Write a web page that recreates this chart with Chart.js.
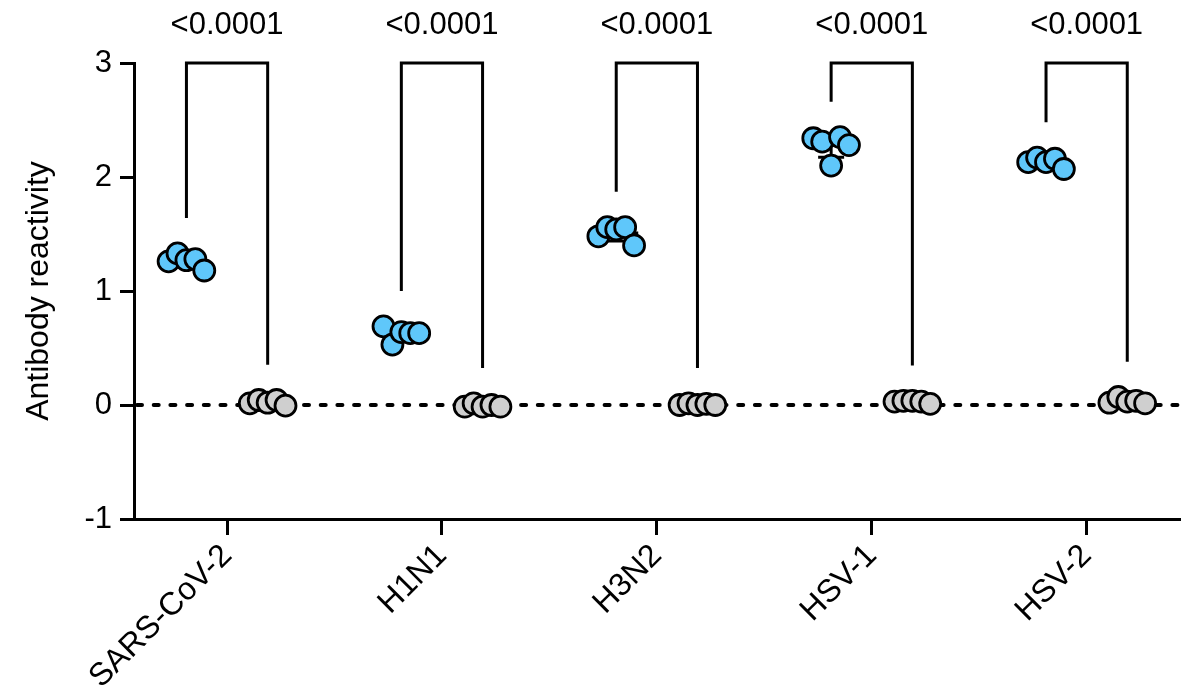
<!DOCTYPE html>
<html>
<head>
<meta charset="utf-8">
<script src="https://cdn.jsdelivr.net/npm/chart.js@4"></script>
<style>
  html, body { margin: 0; padding: 0; background: #fff; }
  #chart { display: block; }
</style>
</head>
<body>
<canvas id="chart" width="1193" height="699"></canvas>
<script>
// virus categories on the x axis
const categories = ["SARS-CoV-2", "H1N1", "H3N2", "HSV-1", "HSV-2"];
// blue group (left of each pair), listed left to right as they sit in the swarm
const bluePoints = [
  [1.26, 1.33, 1.27, 1.28, 1.18],
  [0.69, 0.53, 0.64, 0.63, 0.63],
  [1.48, 1.56, 1.54, 1.56, 1.40],
  [2.34, 2.31, 2.10, 2.35, 2.28],
  [2.13, 2.17, 2.13, 2.16, 2.07],
];
// grey group (right of each pair)
const greyPoints = [
  [0.015, 0.044, 0.02, 0.044, -0.006],
  [-0.015, 0.015, -0.015, 0.0, -0.015],
  [0.0, 0.015, 0.0, 0.01, 0.0],
  [0.03, 0.037, 0.037, 0.03, 0.01],
  [0.02, 0.07, 0.03, 0.037, 0.015],
];
const pValues = ["<0.0001", "<0.0001", "<0.0001", "<0.0001", "<0.0001"];
const yTicks = [-1, 0, 1, 2, 3];

const FONT = "'Liberation Sans', Arial, sans-serif";
const GROUP_OFFSET = 0.189;
const JITTER = 0.0415;

function toXY(values, catIndex, side) {
  return values.map((v, i) => ({
    x: catIndex + side * GROUP_OFFSET + (i - (values.length - 1) / 2) * JITTER,
    y: v,
  }));
}

function mean(arr) {
  return arr.reduce((s, v) => s + v, 0) / arr.length;
}
function sd(arr) {
  const m = mean(arr);
  return Math.sqrt(arr.reduce((s, v) => s + (v - m) * (v - m), 0) / (arr.length - 1));
}

const datasets = [];
categories.forEach((cat, i) => {
  datasets.push({
    label: cat + " blue",
    data: toXY(bluePoints[i], i, -1),
    backgroundColor: "#5fc7fa",
    borderColor: "#000",
    borderWidth: 2.8,
    pointRadius: 10.5,
  });
  datasets.push({
    label: cat + " grey",
    data: toXY(greyPoints[i], i, 1),
    backgroundColor: "#cfcfcf",
    borderColor: "#000",
    borderWidth: 2.8,
    pointRadius: 10.5,
  });
});

// zero line, mean/SD bars, brackets and p-values
const extras = {
  id: "extras",
  beforeDatasetsDraw(chart) {
    const { ctx, chartArea, scales } = chart;
    const xs = scales.x, ys = scales.y;
    ctx.save();
    // dotted baseline at 0
    const y0 = ys.getPixelForValue(0);
    ctx.strokeStyle = "#000";
    ctx.lineWidth = 4;
    ctx.lineCap = "round";
    ctx.setLineDash([5, 11.7]);
    ctx.beginPath();
    ctx.moveTo(chartArea.left + 3, y0);
    ctx.lineTo(chartArea.right, y0);
    ctx.stroke();
    ctx.setLineDash([]);
    ctx.lineCap = "butt";

    // mean +/- SD
    ctx.lineWidth = 3;
    categories.forEach((cat, i) => {
      [[bluePoints[i], -1], [greyPoints[i], 1]].forEach(([vals, side]) => {
        const cx = xs.getPixelForValue(i + side * GROUP_OFFSET);
        const m = mean(vals), s = sd(vals);
        const ym = ys.getPixelForValue(m);
        const yl = ys.getPixelForValue(m - s);
        const yh = ys.getPixelForValue(m + s);
        ctx.beginPath();
        ctx.moveTo(cx - 22, ym); ctx.lineTo(cx + 22, ym);
        ctx.moveTo(cx, yl); ctx.lineTo(cx, yh);
        ctx.moveTo(cx - 13, yl); ctx.lineTo(cx + 13, yl);
        ctx.moveTo(cx - 13, yh); ctx.lineTo(cx + 13, yh);
        ctx.stroke();
      });
    });
    ctx.restore();
  },
  afterDraw(chart) {
    const { ctx, scales } = chart;
    const xs = scales.x, ys = scales.y;
    ctx.save();
    ctx.strokeStyle = "#000";
    ctx.lineWidth = 3;
    const top = ys.getPixelForValue(3);
    categories.forEach((cat, i) => {
      const xl = xs.getPixelForValue(i - GROUP_OFFSET);
      const xr = xs.getPixelForValue(i + GROUP_OFFSET);
      const yl = ys.getPixelForValue(Math.max(...bluePoints[i]) + 0.31);
      const yr = ys.getPixelForValue(Math.max(...greyPoints[i]) + 0.31);
      ctx.beginPath();
      ctx.moveTo(xl, yl);
      ctx.lineTo(xl, top);
      ctx.lineTo(xr, top);
      ctx.lineTo(xr, yr);
      ctx.stroke();
      ctx.fillStyle = "#000";
      ctx.font = "31px " + FONT;
      ctx.textAlign = "center";
      ctx.textBaseline = "middle";
      ctx.fillText(pValues[i], (xl + xr) / 2, 25);
    });
    ctx.restore();
  },
};

new Chart(document.getElementById("chart"), {
  type: "scatter",
  data: { datasets },
  plugins: [extras],
  options: {
    responsive: false,
    animation: false,
    devicePixelRatio: 1,
    layout: { padding: { top: 63, right: 3, left: 0, bottom: 0 } },
    plugins: { legend: { display: false }, tooltip: { enabled: false } },
    scales: {
      x: {
        type: "linear",
        min: -0.433,
        max: 4.433,
        afterBuildTicks: (s) => { s.ticks = categories.map((c, i) => ({ value: i })); },
        afterFit: (s) => { s.height = 180; },
        ticks: {
          callback: (v) => categories[v],
          minRotation: 45,
          maxRotation: 45,
          autoSkip: false,
          color: "#000",
          font: { family: FONT, size: 32 },
          padding: 2,
        },
        grid: { drawOnChartArea: false, color: "#000", lineWidth: 3, tickLength: 16 },
        border: { color: "#000", width: 3 },
      },
      y: {
        min: -1,
        max: 3,
        afterBuildTicks: (s) => { s.ticks = yTicks.map((v) => ({ value: v })); },
        afterFit: (s) => { s.width = 134; },
        ticks: {
          color: "#000",
          font: { family: FONT, size: 31 },
          padding: 8,
        },
        grid: { drawOnChartArea: false, color: "#000", lineWidth: 3, tickLength: 14 },
        border: { color: "#000", width: 3 },
        title: {
          display: true,
          text: "Antibody reactivity",
          color: "#000",
          font: { family: FONT, size: 32 },
          padding: { top: 20, bottom: 0 },
        },
      },
    },
  },
});
</script>
</body>
</html>
